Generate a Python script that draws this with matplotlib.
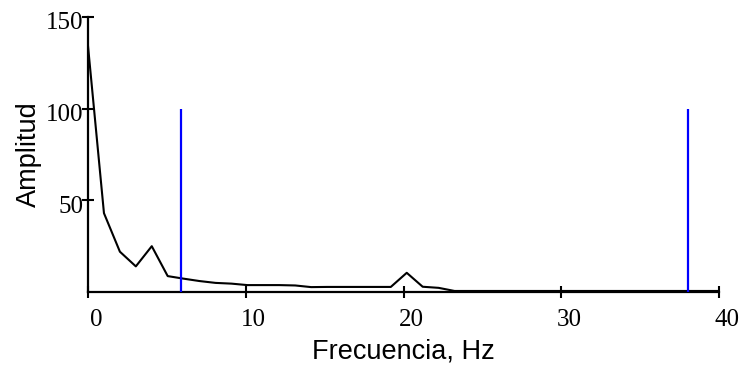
import matplotlib
matplotlib.use("Agg")
import matplotlib.pyplot as plt
import matplotlib.transforms as mtransforms
import numpy as np

# Amplitude spectrum, bins spaced ~1.01 Hz apart
df = 1.01
amplitud = [134, 43, 22, 14, 25, 8.7, 7.3, 6.0, 5.0, 4.6,
            3.8, 3.8, 3.8, 3.6, 2.7, 2.8, 2.8, 2.8, 2.8, 2.8,
            10.5, 2.9, 2.3, 0.6, 0.6, 0.6, 0.6, 0.6, 0.6, 0.6,
            0.6, 0.6, 0.6, 0.6, 0.6, 0.6, 0.6, 0.6, 0.6, 0.6, 0.6]
frecuencia = np.arange(len(amplitud)) * df

# Band limits marked on the spectrum
limites = [5.9, 38.0]
altura_limite = 100

xticks = [0, 10, 20, 30, 40]
yticks = [50, 100, 150]

fig = plt.figure(figsize=(7.46, 3.66), dpi=100)
ax = fig.add_axes([0.118, 0.202, 0.846, 0.752])

ax.plot(frecuencia, amplitud, color="black", lw=1.5, zorder=3, clip_on=True)
ax.vlines(limites, 0, altura_limite, color="#0000ff", lw=1.6, zorder=4)

ax.set_xlim(0, 40)
ax.set_ylim(0, 150)
ax.set_xticks(xticks)
ax.set_yticks(yticks)

for s in ("top", "right"):
    ax.spines[s].set_visible(False)
for s in ("left", "bottom"):
    ax.spines[s].set_linewidth(1.6)
    ax.spines[s].set_color("black")

ax.tick_params(direction="inout", length=8.5, width=1.5, colors="black")
ax.tick_params(axis="x", pad=8)
ax.tick_params(axis="y", pad=-1)
for lab in ax.get_xticklabels() + ax.get_yticklabels():
    lab.set_family("Liberation Serif")
    lab.set_fontsize(18)

# tick numbers sit a little right of / below their marks
shift_x = mtransforms.ScaledTranslation(8 / 100, 0, fig.dpi_scale_trans)
for lab in ax.get_xticklabels():
    lab.set_transform(lab.get_transform() + shift_x)
shift_y = mtransforms.ScaledTranslation(0, -4 / 100, fig.dpi_scale_trans)
for lab in ax.get_yticklabels():
    lab.set_transform(lab.get_transform() + shift_y)

ax.set_xlabel("Frecuencia, Hz", family="Liberation Sans", fontsize=19.5, labelpad=5)
ax.set_ylabel("Amplitud", family="Liberation Sans", fontsize=19.5, labelpad=3)

fig.savefig("out.png", dpi=100, facecolor="white")
